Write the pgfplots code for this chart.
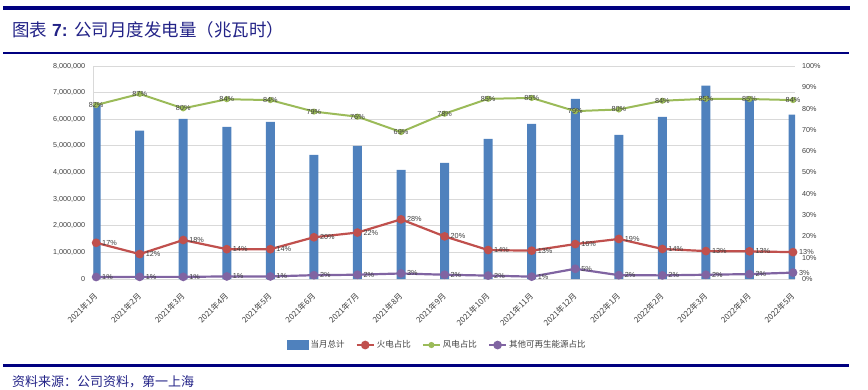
\documentclass[border=0pt]{standalone}
\usepackage{pgfplots}
\pgfplotsset{compat=1.18}
\usepackage{fontspec}
\setmainfont{Liberation Sans}
\newfontfamily\cjk{Noto Sans CJK SC}
\definecolor{navy}{RGB}{0,0,128}
\definecolor{titleblue}{RGB}{35,35,135}
\definecolor{barblue}{RGB}{79,129,189}
\definecolor{redl}{RGB}{192,80,77}
\definecolor{greenl}{RGB}{155,187,89}
\definecolor{purplel}{RGB}{128,100,162}
\definecolor{gridc}{RGB}{217,217,217}
\definecolor{txt}{RGB}{64,64,64}
\begin{document}
\begin{tikzpicture}
\path[use as bounding box] (0pt,0pt) rectangle (868pt,389pt);
\fill[navy] (3pt,379pt) rectangle (850pt,383pt);
\fill[navy] (3pt,335.3pt) rectangle (849pt,337pt);
\fill[navy] (3pt,22.5pt) rectangle (849pt,24.8pt);
\node[anchor=west, inner sep=0pt, text=titleblue, font=\fontsize{17.5}{20}\selectfont] at (12pt,359pt) {{\cjk 图表} \textbf{7:} {\cjk 公司月度发电量（兆瓦时）}};
\node[anchor=west, inner sep=0pt, text=titleblue, font=\cjk\fontsize{13}{15}\selectfont] at (12pt,7pt) {资料来源：公司资料，第一上海};

\begin{axis}[
  at={(93.3pt,110pt)}, anchor=south west, scale only axis,
  width=701.7pt, height=213pt,
  xmin=-0.065, xmax=16.045, ymin=0, ymax=8000000,
  ybar, bar width=9pt,
  axis x line*=bottom, axis y line*=left,
  axis line style={draw=gridc, line width=0.8pt},
  tick style={draw=none},
  ymajorgrids, grid style={draw=gridc, line width=0.8pt},
  ytick={0,1000000,2000000,3000000,4000000,5000000,6000000,7000000,8000000},
  scaled y ticks=false,
  /pgf/number format/assume math mode=true,
  yticklabel style={/pgf/number format/.cd, fixed, 1000 sep={,}, /tikz/.cd, inner sep=0pt, xshift=-8pt, font=\fontsize{7.2}{8}\selectfont, text=txt},
  xtick={0,1,...,16},
  xticklabels={2021年1月,2021年2月,2021年3月,2021年4月,2021年5月,2021年6月,2021年7月,2021年8月,2021年9月,2021年10月,2021年11月,2021年12月,2022年1月,2022年2月,2022年3月,2022年4月,2022年5月},
  xticklabel style={xshift=0pt, yshift=-11pt, rotate=45, anchor=east, inner sep=0pt, font=\cjk\fontsize{8}{9}\selectfont, text=txt},
]
\addplot[fill=barblue, draw=none] coordinates {
(0,6540000) (1,5570000) (2,6010000) (3,5710000) (4,5900000) (5,4660000)
(6,5000000) (7,4100000) (8,4360000) (9,5260000) (10,5830000) (11,6770000)
(12,5410000) (13,6090000) (14,7260000) (15,6740000) (16,6170000)};
\end{axis}

\begin{axis}[
  at={(93.3pt,110pt)}, anchor=south west, scale only axis,
  width=701.7pt, height=213pt,
  xmin=-0.065, xmax=16.045, ymin=0, ymax=100,
  axis x line=none, axis y line*=right,
  y axis line style={draw=none},
  tick style={draw=none},
  ytick={0,10,20,30,40,50,60,70,80,90,100},
  yticklabels={0\%,10\%,20\%,30\%,40\%,50\%,60\%,70\%,80\%,90\%,100\%},
  yticklabel style={inner sep=0pt, xshift=7pt, font=\fontsize{7.2}{8}\selectfont, text=txt},
  clip=false,
  /pgf/number format/assume math mode=true,
  point meta=y,
  nodes near coords={\pgfmathprintnumber[fixed,precision=0]{\pgfplotspointmeta}\%},
  legend columns=4,
  legend style={at={(0.4905,-0.31)}, anchor=center, draw=none, fill=none,
    font=\cjk\fontsize{8.5}{10}\selectfont, text=txt,
    /tikz/every even column/.append style={column sep=9pt}},
]
\addlegendimage{legend image code/.code={\fill[barblue] (0pt,-4.5pt) rectangle (21pt,4.5pt);}}
\addlegendentry{当月总计}
\addplot[color=redl, line width=2.2pt, mark=*, mark size=3.2pt,
  every node near coord/.append style={anchor=west, xshift=5pt, inner sep=0pt, font=\fontsize{7.3}{8}\selectfont, text=txt}]
coordinates {
(0,17) (1,11.7) (2,18.3) (3,14) (4,14) (5,19.6) (6,21.8) (7,28) (8,20)
(9,13.6) (10,13.3) (11,16.4) (12,18.8) (13,14.1) (14,13.1) (15,13) (16,12.6)};
\addlegendentry{火电占比}
\addplot[color=greenl, line width=2pt, mark=*, mark size=2pt,
  every node near coord/.append style={anchor=center, inner sep=0pt, font=\fontsize{7.3}{8}\selectfont, text=txt}]
coordinates {
(0,81.7) (1,86.9) (2,80.1) (3,84.4) (4,84) (5,78.6) (6,76.2) (7,69) (8,77.6)
(9,84.6) (10,85) (11,78.8) (12,79.6) (13,83.7) (14,84.6) (15,84.5) (16,84)};
\addlegendentry{风电占比}
\addplot[color=purplel, line width=2.2pt, mark=*, mark size=3.2pt,
  every node near coord/.append style={anchor=west, xshift=5pt, inner sep=0pt, font=\fontsize{7.3}{8}\selectfont, text=txt}]
coordinates {
(0,0.94) (1,1) (2,1) (3,1.2) (4,1.2) (5,1.8) (6,2) (7,2.6) (8,2)
(9,1.6) (10,1.1) (11,4.8) (12,1.8) (13,1.7) (14,2) (15,2.3) (16,3)};
\addlegendentry{其他可再生能源占比}
\end{axis}
\end{tikzpicture}
\end{document}
